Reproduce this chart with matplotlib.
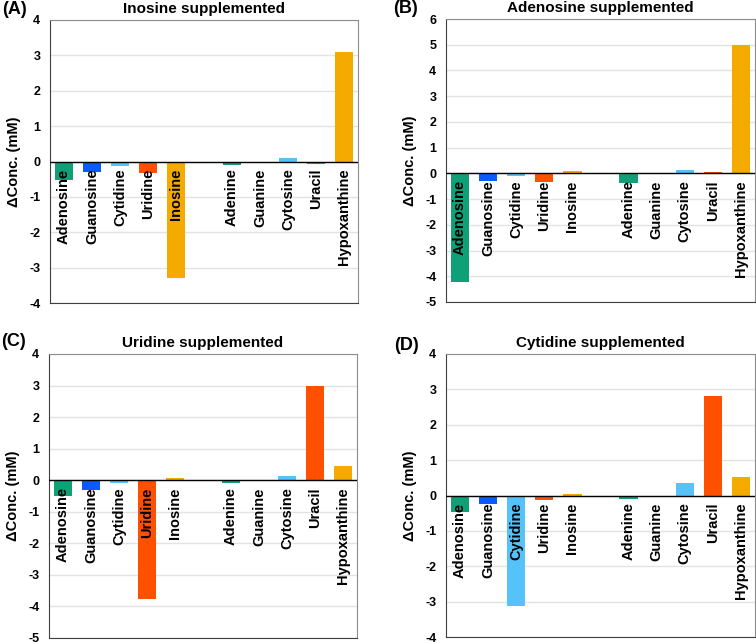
import matplotlib
matplotlib.use("Agg")
import matplotlib.pyplot as plt
import numpy as np

plt.rcParams['font.family'] = ['Liberation Sans', 'DejaVu Sans']
plt.rcParams['axes.unicode_minus'] = False

compounds = ["Adenosine", "Guanosine", "Cytidine", "Uridine", "Inosine",
             "Adenine", "Guanine", "Cytosine", "Uracil", "Hypoxanthine"]
# slot positions: gap between nucleosides and bases
positions = [0, 1, 2, 3, 4, 6, 7, 8, 9, 10]

green = "#0fa078"
blue = "#0a5aff"
lightblue = "#55c3fa"
vermilion = "#ff5000"
orange = "#f5aa00"
bar_colors = [green, blue, lightblue, vermilion, orange,
              green, blue, lightblue, vermilion, orange]

inosine_vals = [-0.52, -0.29, -0.12, -0.33, -3.30, -0.09, 0.0, 0.09, -0.08, 3.10]
adenosine_vals = [-4.22, -0.30, -0.12, -0.35, 0.10, -0.36, 0.0, 0.13, 0.06, 5.00]
uridine_vals = [-0.51, -0.31, -0.10, -3.76, 0.06, -0.10, 0.0, 0.12, 2.98, 0.45]
cytidine_vals = [-0.47, -0.23, -3.13, -0.14, 0.04, -0.09, 0.0, 0.34, 2.80, 0.53]

panels = [
    ("(A)", "Inosine supplemented", inosine_vals, (-4, 4), [50, 20, 358, 303], (2, 1)),
    ("(B)", "Adenosine supplemented", adenosine_vals, (-5, 6), [446, 19, 755, 302], (393, 0)),
    ("(C)", "Uridine supplemented", uridine_vals, (-5, 4), [49, 354, 357, 638], (1, 333)),
    ("(D)", "Cytidine supplemented", cytidine_vals, (-4, 4), [446, 354, 755, 637], (394, 337)),
]

W, H = 756, 643
fig = plt.figure(figsize=(W / 100, H / 100), dpi=100)

for tag, title, vals, ylim, box, tagpos in panels:
    x0, y0, x1, y1 = box
    ax = fig.add_axes([x0 / W, 1 - y1 / H, (x1 - x0) / W, (y1 - y0) / H])
    ax.bar(positions, vals, width=0.65, color=bar_colors, zorder=3)
    ax.set_xlim(-0.5, 10.5)
    ax.set_ylim(*ylim)
    ax.set_yticks(np.arange(ylim[0], ylim[1] + 1, 1))
    ax.yaxis.grid(True, color="#e3e3e3", linewidth=1.0, zorder=0)
    ax.axhline(0, color="black", linewidth=1.0, zorder=4)
    ax.set_xticks([])
    ax.tick_params(axis="y", length=0, pad=7, labelsize=9)
    for lab in ax.get_yticklabels():
        lab.set_fontweight("bold")
    for side in ["top", "right"]:
        ax.spines[side].set_color("#8c8c8c")
    for side in ["left", "bottom"]:
        ax.spines[side].set_color("#404040")
    ax.set_ylabel("ΔConc. (mM)", fontsize=10.5, fontweight="bold")
    ax.yaxis.set_label_coords(-29 / (x1 - x0), 0.5)
    ax.set_title(title, fontsize=11, fontweight="bold", pad=5)
    for p, name in zip(positions, compounds):
        ax.annotate(name, xy=(p, 0), xytext=(0, -5), textcoords="offset points",
                    rotation=90, ha="center", va="top", fontsize=10.5,
                    fontweight="bold", zorder=5)
    fig.text(tagpos[0] / W, 1 - tagpos[1] / H, tag, fontsize=13,
             fontweight="bold", va="top", ha="left")

fig.savefig("out.png", dpi=100)
